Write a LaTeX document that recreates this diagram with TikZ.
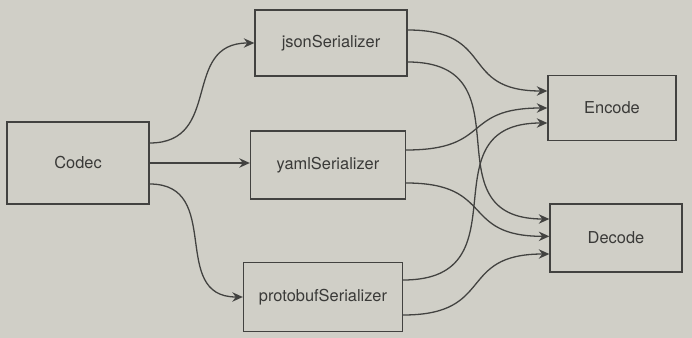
\documentclass[tikz,border=0pt]{standalone}
\usepackage{fontspec}
\setmainfont{TeX Gyre Heros}
\usetikzlibrary{arrows.meta}

\begin{document}
\begin{tikzpicture}[x=0.03cm, y=-0.03cm,
    box/.style={draw=myline, line width=1.1pt, fill=mypaper, text=mytext,
        font=\fontsize{14}{17}\selectfont, inner sep=0pt},
    flow/.style={draw=myline, line width=1.1pt, -{Stealth[length=9pt, width=8pt]}},
    bend/.style={flow, out=0, in=180, looseness=#1},
    bend/.default=1.5]
    \definecolor{mypaper}{RGB}{208,207,199}
    \definecolor{myline}{RGB}{66,66,64}
    \definecolor{mytext}{RGB}{58,58,56}

    \fill[mypaper] (0,0) rectangle (692,338);
    \useasboundingbox (0,0) rectangle (692,338);

    % source, serializers, operations
    \node[box, minimum width=4.26cm, minimum height=2.46cm] (codec) at (78,163) {Codec};
    \node[box, minimum width=4.56cm, minimum height=1.98cm] (json) at (331,43) {jsonSerializer};
    \node[box, minimum width=4.65cm, minimum height=2.04cm] (yaml) at (328,165) {yamlSerializer};
    \node[box, minimum width=4.77cm, minimum height=2.07cm] (proto) at (323,297) {protobufSerializer};
    \node[box, minimum width=3.84cm, minimum height=1.95cm] (encode) at (612,108) {Encode};
    \node[box, minimum width=3.96cm, minimum height=2.04cm] (decode) at (616,238) {Decode};

    % codec feeds every serializer
    \draw[bend=1.3] ([yshift=0.6cm]codec.east) to (json.west);
    \draw[flow] (codec.east) -- (codec.east -| yaml.west);
    \draw[bend=1.3] ([yshift=-0.63cm]codec.east) to (proto.west);

    % each serializer offers encode and decode
    \draw[bend] ([yshift=0.39cm]json.east) to ([yshift=0.51cm]encode.west);
    \draw[bend] ([yshift=-0.57cm]json.east) to ([yshift=0.57cm]decode.west);
    \draw[bend] ([yshift=0.45cm]yaml.east) to (encode.west);
    \draw[bend] ([yshift=-0.54cm]yaml.east) to ([yshift=0.05cm]decode.west);
    \draw[bend] ([yshift=0.51cm]proto.east) to ([yshift=-0.45cm]encode.west);
    \draw[bend] ([yshift=-0.54cm]proto.east) to ([yshift=-0.48cm]decode.west);
\end{tikzpicture}
\end{document}
